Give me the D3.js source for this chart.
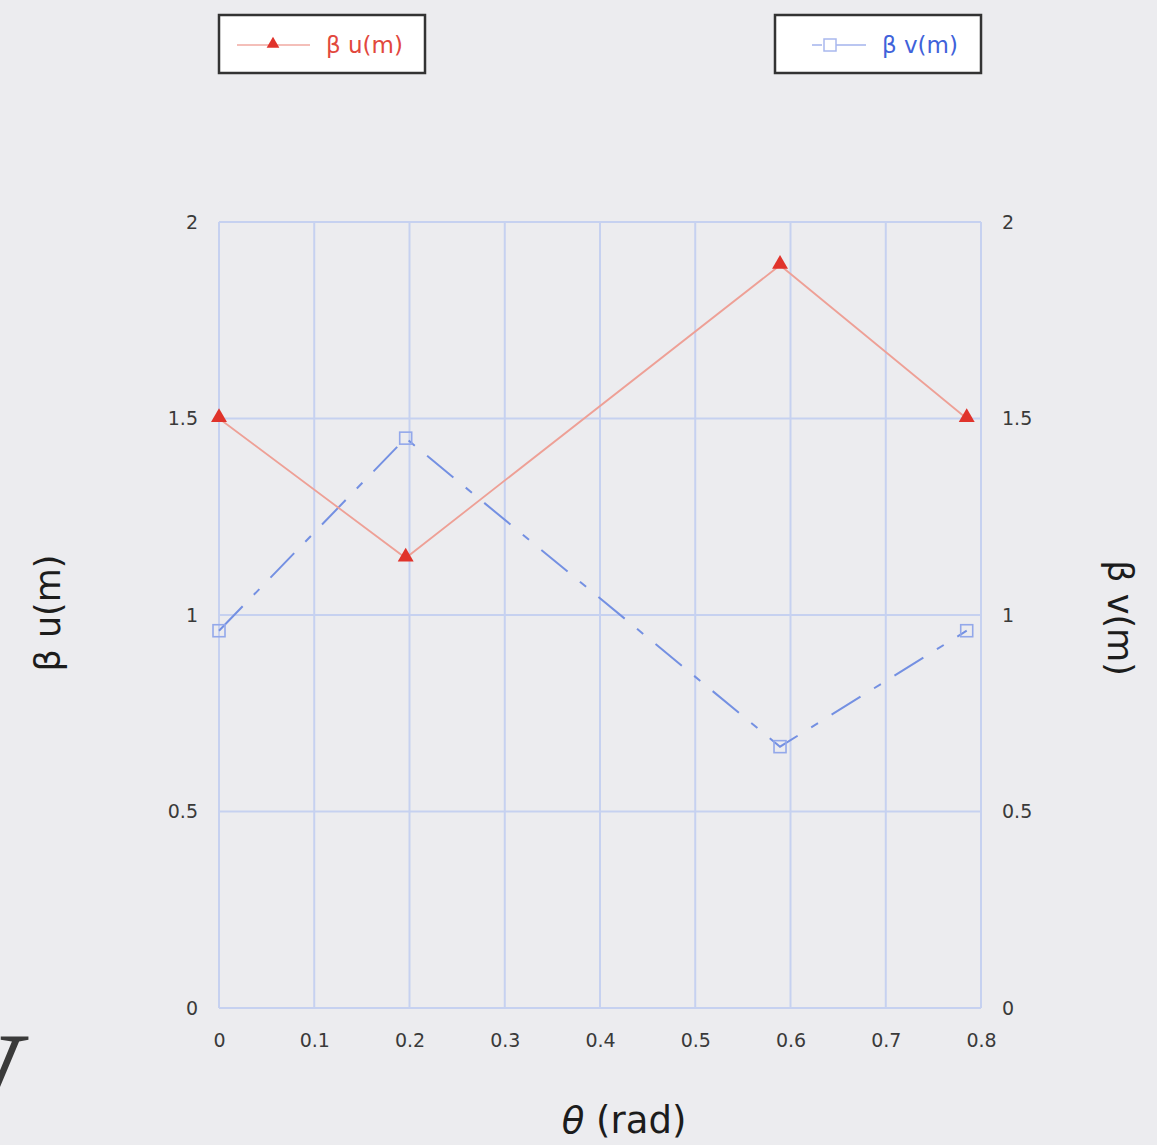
<!DOCTYPE html>
<html>
<head>
<meta charset="utf-8">
<script src="https://cdn.jsdelivr.net/npm/d3@7"></script>
<style>
  body { margin: 0; background: #ececef; overflow: hidden; }
  svg { display: block; }
</style>
</head>
<body>
<script>
// data
const theta = [0, 0.196, 0.589, 0.785]
const betaU = [1.5, 1.145, 1.89, 1.5]
const betaV = [0.96, 1.45, 0.665, 0.96]
const xTicks = [0, 0.1, 0.2, 0.3, 0.4, 0.5, 0.6, 0.7, 0.8]
const yTicks = [0, 0.5, 1, 1.5, 2]

const W = 1157, H = 1145
const svg = d3.select('body').append('svg')
    .attr('width', W)
    .attr('height', H)

svg.append('rect').attr('width', W).attr('height', H).attr('fill', '#ececef')

const x = d3.scaleLinear().domain([0, 0.8]).range([219, 981])
const y = d3.scaleLinear().domain([0, 2]).range([1008, 222])

const grid = '#c6d1f0'
const font = '"DejaVu Sans", Verdana, sans-serif'

// gridlines
svg.append('g').selectAll('line')
    .data(xTicks).enter()
    .append('line')
    .attr('x1', d => x(d)).attr('x2', d => x(d))
    .attr('y1', y(0)).attr('y2', y(2))
    .attr('stroke', grid).attr('stroke-width', 2)

svg.append('g').selectAll('line')
    .data(yTicks).enter()
    .append('line')
    .attr('x1', x(0)).attr('x2', x(0.8))
    .attr('y1', d => y(d)).attr('y2', d => y(d))
    .attr('stroke', grid).attr('stroke-width', 2)

// axes (labels only, frame drawn by gridlines)
const axisStyle = g => {
    g.select('.domain').remove()
    g.selectAll('.tick line').remove()
    g.selectAll('.tick text')
        .attr('fill', '#3a3a3a')
        .style('font-family', font)
        .style('font-size', '19px')
}
svg.append('g')
    .attr('transform', `translate(0,${y(0)})`)
    .call(d3.axisBottom(x).tickValues(xTicks).tickFormat(d3.format('')).tickSize(0).tickPadding(26))
    .call(axisStyle)
svg.append('g')
    .attr('transform', `translate(${x(0)},0)`)
    .call(d3.axisLeft(y).tickValues(yTicks).tickFormat(d3.format('')).tickSize(0).tickPadding(21))
    .call(axisStyle)
svg.append('g')
    .attr('transform', `translate(${x(0.8)},0)`)
    .call(d3.axisRight(y).tickValues(yTicks).tickFormat(d3.format('')).tickSize(0).tickPadding(21))
    .call(axisStyle)

// series lines
const ptsU = theta.map((t, i) => [t, betaU[i]])
const ptsV = theta.map((t, i) => [t, betaV[i]])
const line = d3.line().x(d => x(d[0])).y(d => y(d[1]))

svg.append('path')
    .attr('d', line(ptsV))
    .attr('fill', 'none')
    .attr('stroke', '#7490e2')
    .attr('stroke-width', 2)
    .attr('stroke-dasharray', '34,16,8,16')

svg.append('path')
    .attr('d', line(ptsU))
    .attr('fill', 'none')
    .attr('stroke', '#eea096')
    .attr('stroke-width', 1.8)

const tri = d3.symbol().type(d3.symbolTriangle).size(110)
svg.append('g').selectAll('path')
    .data(ptsU).enter()
    .append('path')
    .attr('d', tri)
    .attr('transform', d => `translate(${x(d[0])},${y(d[1]) - 1})`)
    .attr('fill', '#e0332b')

svg.append('g').selectAll('rect')
    .data(ptsV).enter()
    .append('rect')
    .attr('x', d => x(d[0]) - 6)
    .attr('y', d => y(d[1]) - 6)
    .attr('width', 12).attr('height', 12)
    .attr('fill', 'none')
    .attr('stroke', '#93a8ea')
    .attr('stroke-width', 1.6)

// axis titles
svg.append('text')
    .attr('transform', 'translate(60,613) rotate(-90)')
    .attr('text-anchor', 'middle')
    .attr('fill', '#1c1c1c')
    .style('font-family', font)
    .style('font-size', '35px')
    .text('β u(m)')

svg.append('text')
    .attr('transform', 'translate(1108,618) rotate(90)')
    .attr('text-anchor', 'middle')
    .attr('fill', '#1c1c1c')
    .style('font-family', font)
    .style('font-size', '35px')
    .text('β v(m)')

svg.append('text')
    .attr('x', 624).attr('y', 1133)
    .attr('text-anchor', 'middle')
    .attr('fill', '#1c1c1c')
    .style('font-family', font)
    .style('font-size', '37px')
    .html('<tspan font-style="italic">θ</tspan> (rad)')

// stray glyph at bottom-left edge
svg.append('text')
    .attr('x', -64).attr('y', 1121)
    .attr('fill', '#3a3a3a')
    .style('font-family', '"Liberation Serif", serif')
    .style('font-size', '130px')
    .text('V')

// legends
const legends = [
    {label: 'β u(m)', x0: 219, color: '#e2483d', mark: 'tri'},
    {label: 'β v(m)', x0: 775, color: '#3f62da', mark: 'sq'}
]
const lg = svg.selectAll('.legend')
    .data(legends).enter()
    .append('g')
    .attr('class', 'legend')
    .attr('transform', d => `translate(${d.x0},15)`)

lg.append('rect')
    .attr('width', 206).attr('height', 58)
    .attr('fill', '#fff')
    .attr('stroke', '#333').attr('stroke-width', 2.5)

const red = lg.filter(d => d.mark === 'tri')
red.append('line')
    .attr('x1', 18).attr('x2', 91).attr('y1', 30).attr('y2', 30)
    .attr('stroke', '#f0aaa2').attr('stroke-width', 1.6)
red.append('path')
    .attr('d', d3.symbol().type(d3.symbolTriangle).size(70))
    .attr('transform', 'translate(54,29)')
    .attr('fill', '#e0332b')

const blue = lg.filter(d => d.mark === 'sq')
blue.append('line')
    .attr('x1', 37).attr('x2', 47).attr('y1', 30).attr('y2', 30)
    .attr('stroke', '#a9b8ee').attr('stroke-width', 1.6)
blue.append('line')
    .attr('x1', 61).attr('x2', 91).attr('y1', 30).attr('y2', 30)
    .attr('stroke', '#a9b8ee').attr('stroke-width', 1.6)
blue.append('rect')
    .attr('x', 49).attr('y', 24).attr('width', 12).attr('height', 12)
    .attr('fill', '#fff')
    .attr('stroke', '#a9b8ee').attr('stroke-width', 1.5)

lg.append('text')
    .attr('x', 107).attr('y', 38)
    .attr('fill', d => d.color)
    .style('font-family', font)
    .style('font-size', '23px')
    .text(d => d.label)
</script>
</body>
</html>
